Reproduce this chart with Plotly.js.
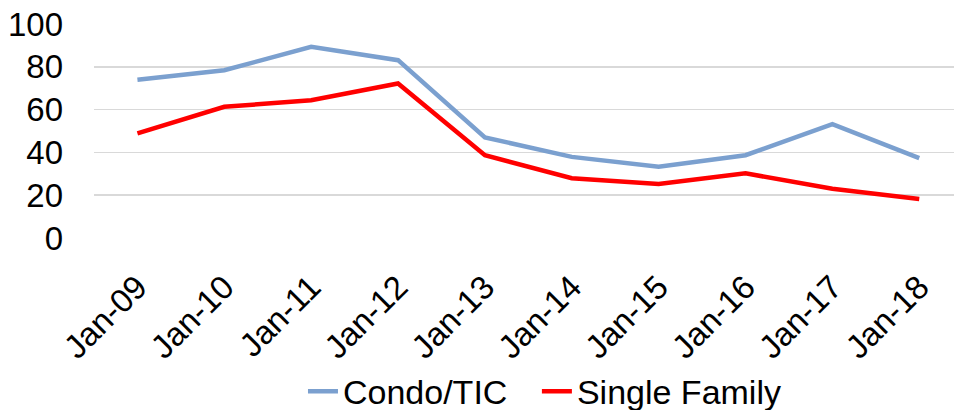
<!DOCTYPE html>
<html>
<head>
<meta charset="utf-8">
<script src="https://cdn.plot.ly/plotly-3.0.1.min.js"></script>
<style>html,body{margin:0;padding:0;background:#fff;}#chart{width:954px;height:410px;}</style>
</head>
<body>
<div id="chart"></div>
<script>
const categories = ["Jan-09","Jan-10","Jan-11","Jan-12","Jan-13","Jan-14","Jan-15","Jan-16","Jan-17","Jan-18"];
const condoTIC = [74.0, 78.4, 89.3, 83.1, 47.0, 37.9, 33.3, 38.7, 53.2, 37.3];
const singleFamily = [48.9, 61.3, 64.4, 72.2, 38.7, 27.9, 25.2, 30.2, 23.0, 18.2];
const yTicks = [0, 20, 40, 60, 80, 100];

const fam = "Liberation Sans, Arial, sans-serif";
const tickFont = {family: fam, size: 33, color: "#000"};
const legFont = {family: fam, size: 34, color: "#000"};
const data = [
  {x: categories, y: condoTIC, type: "scatter", mode: "lines", name: "Condo/TIC",
   line: {color: "#7BA0CF", width: 4.5}, legend: "legend"},
  {x: categories, y: singleFamily, type: "scatter", mode: "lines", name: "Single Family",
   line: {color: "#FF0000", width: 4.5}, legend: "legend2"}
];
const legBase = {orientation: "h", yref: "container", yanchor: "middle", xanchor: "left", y: 0.045,
                 font: legFont, itemwidth: 30, bgcolor: "rgba(0,0,0,0)"};
const layout = {
  width: 954, height: 410,
  margin: {l: 94, r: 0, t: 24, b: 172},
  paper_bgcolor: "#fff", plot_bgcolor: "#fff",
  font: tickFont,
  showlegend: true,
  legend: Object.assign({}, legBase, {x: 0.243}),
  legend2: Object.assign({}, legBase, {x: 0.515}),
  xaxis: {type: "category", range: [-0.5, 9.4], tickangle: -45, showgrid: false,
          zeroline: false, showline: false, ticks: "", tickfont: tickFont, ticklabelstandoff: 22},
  yaxis: {range: [0, 100], tickvals: yTicks, ticktext: yTicks.map(String), showgrid: true,
          gridcolor: "#D9D9D9", gridwidth: 1.5, zeroline: false, showline: false, ticks: "",
          tickfont: tickFont, ticklabelstandoff: 30, fixedrange: true}
};
Plotly.newPlot("chart", data, layout, {displayModeBar: false, staticPlot: true});
</script>
</body>
</html>
